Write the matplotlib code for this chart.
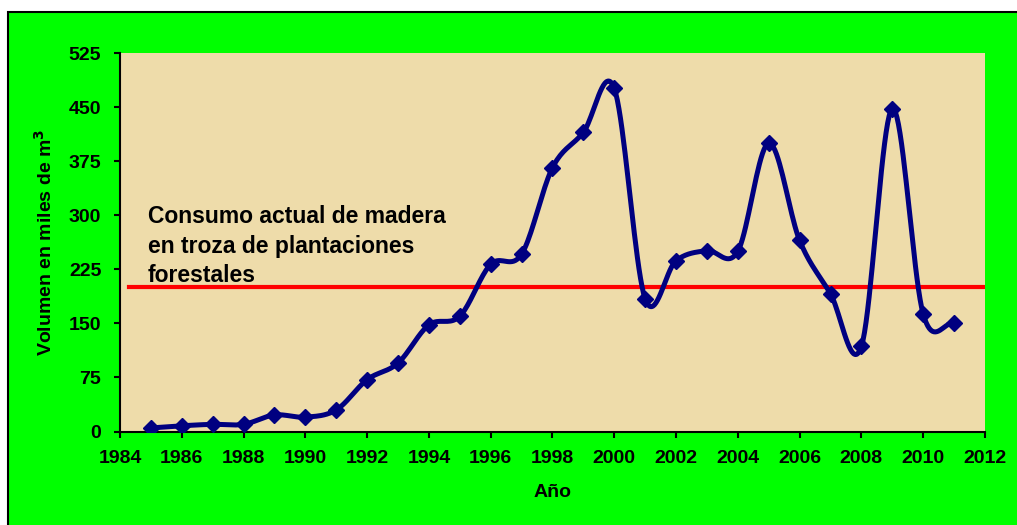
import numpy as np
import matplotlib.pyplot as plt
from matplotlib.patches import Rectangle

# datos
anios = [1985, 1986, 1987, 1988, 1989, 1990, 1991, 1992, 1993, 1994, 1995, 1996,
         1997, 1998, 1999, 2000, 2001, 2002, 2003, 2004, 2005, 2006, 2007, 2008,
         2009, 2010, 2011]
volumen = [5, 8, 10, 10, 23, 20, 30, 72, 95, 148, 160, 232,
           246, 366, 415, 476, 184, 237, 251, 250, 400, 265, 191, 118,
           448, 163, 150]
consumo = 200
y_ticks = [0, 75, 150, 225, 300, 375, 450, 525]
x_ticks = list(range(1984, 2013, 2))
nota = "Consumo actual de madera\nen troza de plantaciones\nforestales"


def suavizar(x, y, n=20):
    # curva tipo Catmull-Rom como la linea suavizada de Excel
    x = np.asarray(x, float)
    y = np.asarray(y, float)
    px = np.concatenate([[2 * x[0] - x[1]], x, [2 * x[-1] - x[-2]]])
    py = np.concatenate([[2 * y[0] - y[1]], y, [2 * y[-1] - y[-2]]])
    xs, ys = [], []
    t = np.linspace(0, 1, n, endpoint=False)
    for i in range(1, len(px) - 2):
        for p, out in ((px, xs), (py, ys)):
            p0, p1, p2, p3 = p[i - 1], p[i], p[i + 1], p[i + 2]
            out.extend(0.5 * ((2 * p1) + (-p0 + p2) * t
                              + (2 * p0 - 5 * p1 + 4 * p2 - p3) * t ** 2
                              + (-p0 + 3 * p1 - 3 * p2 + p3) * t ** 3))
    xs.append(x[-1])
    ys.append(y[-1])
    return np.array(xs), np.array(ys)


plt.rcParams['font.family'] = ['Liberation Sans', 'DejaVu Sans']
plt.rcParams['font.weight'] = 'bold'

fig = plt.figure(figsize=(10.17, 5.25), dpi=100)
fig.patch.set_facecolor('white')
fig.patches.append(Rectangle((0.008, -0.01), 1.0, 0.987, transform=fig.transFigure,
                             facecolor='#00FF00', edgecolor='black', linewidth=1.5,
                             zorder=-10))

ax = fig.add_axes([0.118, 0.178, 0.8505, 0.721])
ax.set_facecolor('#EEDCAA')

sx, sy = suavizar(anios, volumen)
ax.plot(sx, sy, color='#000080', linewidth=3.6, zorder=3)
ax.plot(anios, volumen, linestyle='none', marker='D', markersize=8.5,
        color='#000080', zorder=4)
ax.plot([1984.3, 2012], [consumo, consumo], color='#FF0000', linewidth=3, zorder=2)

ax.text(1984.9, 314, nota, fontsize=16.5, fontweight='bold', va='top', ha='left',
        linespacing=1.36)

ax.set_xlim(1984, 2012)
ax.set_ylim(0, 525)
ax.set_xticks(x_ticks)
ax.set_yticks(y_ticks)
ax.tick_params(axis='both', labelsize=14, width=1.5, length=4.5, direction='out')
ax.tick_params(axis='y', pad=9)
ax.tick_params(axis='x', pad=9)
ax.spines['top'].set_visible(False)
ax.spines['right'].set_visible(False)
ax.spines['left'].set_linewidth(1.5)
ax.spines['bottom'].set_linewidth(1.5)
ax.set_xlabel('Año', fontsize=14, fontweight='bold', labelpad=12)
ax.set_ylabel('Volumen en miles de m$^{\\mathbf{3}}$', fontsize=14,
              fontweight='bold', labelpad=9)

fig.savefig('out.png', dpi=100)
